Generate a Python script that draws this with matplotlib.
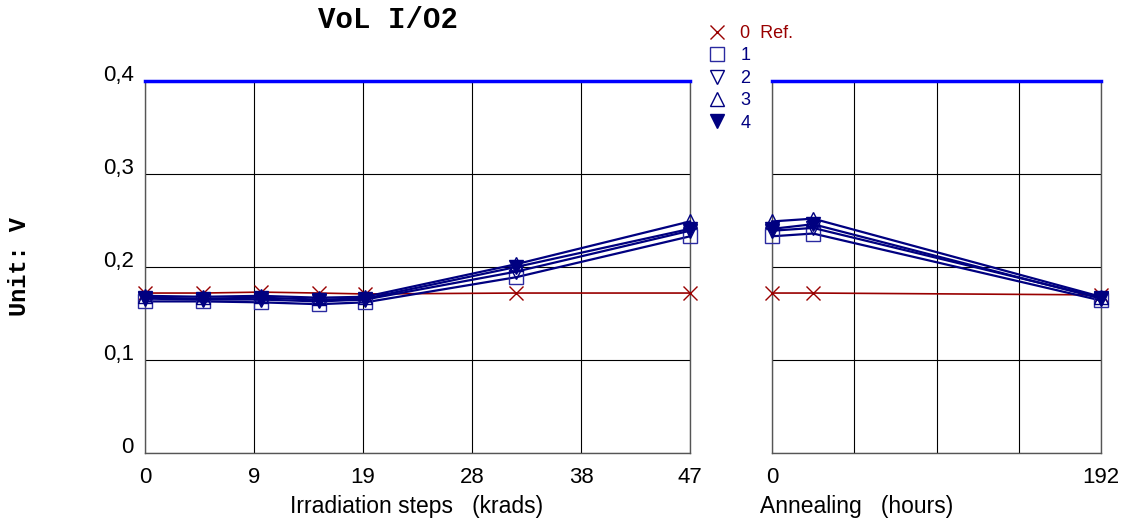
import numpy as np
import matplotlib
matplotlib.use('Agg')
import matplotlib.pyplot as plt
from matplotlib.lines import Line2D

plt.rcParams['font.family'] = ['Liberation Sans', 'DejaVu Sans']

# data
dose = [0, 5, 10, 15, 19, 32, 47]          # krads
anneal = [0, 24, 192]                      # hours
limit = 0.4

ref_irr = [0.172, 0.172, 0.173, 0.172, 0.171, 0.172, 0.172]
s1_irr = [0.163, 0.163, 0.162, 0.160, 0.162, 0.189, 0.233]
s2_irr = [0.166, 0.165, 0.165, 0.163, 0.165, 0.195, 0.239]
s3_irr = [0.169, 0.168, 0.169, 0.167, 0.168, 0.203, 0.249]
s4_irr = [0.167, 0.166, 0.167, 0.165, 0.166, 0.200, 0.241]

ref_ann = [0.172, 0.172, 0.170]
s1_ann = [0.233, 0.236, 0.164]
s2_ann = [0.239, 0.242, 0.167]
s3_ann = [0.249, 0.252, 0.168]
s4_ann = [0.241, 0.246, 0.166]

labels = ['0  Ref.', '1', '2', '3', '4']
yticks = [0, 0.1, 0.2, 0.3, 0.4]
ytick_labels = ['0', '0,1', '0,2', '0,3', '0,4']

red = '#990000'
navy = '#000080'
styles = [
    dict(color=red, marker='x', mfc='none', mec=red, lw=1.2),
    dict(color=navy, marker='s', mfc='none', mec='#2a2aa0', lw=1.6),
    dict(color=navy, marker='v', mfc='none', mec=navy, lw=1.6),
    dict(color=navy, marker='^', mfc='none', mec=navy, lw=1.6),
    dict(color=navy, marker='v', mfc=navy, mec=navy, lw=1.6),
]

fig = plt.figure(figsize=(11.26, 5.24), dpi=100)
ax1 = fig.add_axes([145/1126, 1-453/524, 545/1126, 372/524])
ax2 = fig.add_axes([772/1126, 1-453/524, 329/1126, 372/524])

for ax, x, series in [(ax1, dose, [ref_irr, s1_irr, s2_irr, s3_irr, s4_irr]),
                      (ax2, anneal, [ref_ann, s1_ann, s2_ann, s3_ann, s4_ann])]:
    for y, st in zip(series, styles):
        ax.plot(x, y, ms=10, mew=1.0, clip_on=False, zorder=3, **st)
    ax.set_ylim(0, limit)
    ax.set_yticks(yticks)
    ax.grid(True, color='black', lw=0.8)
    ax.tick_params(length=0, labelsize=16, pad=10)
    for s in ['left', 'right', 'bottom']:
        ax.spines[s].set_color('#555555')
        ax.spines[s].set_linewidth(1.0)
    ax.spines['top'].set_color('blue')
    ax.spines['top'].set_linewidth(2.5)
    ax.spines['top'].set_zorder(5)

ax1.set_xlim(0, 47)
xt = np.linspace(0, 47, 6)
ax1.set_xticks(xt)
ax1.set_xticklabels([str(int(round(v))) for v in xt])
ax1.set_yticklabels(ytick_labels)
ax1.tick_params(axis='y', pad=8)
for t in ax1.get_yticklabels():
    t.set_verticalalignment('baseline')

ax2.set_xlim(0, 192)
ax2.set_xticks([0, 48, 96, 144, 192])
ax2.set_xticklabels(['0', '', '', '', '192'])
ax2.set_yticklabels([])

fig.text(417/1126, 1-507/524, 'Irradiation steps   (krads)', ha='center', va='center', fontsize=16.5)
fig.text(760/1126, 1-507/524, 'Annealing   (hours)', ha='left', va='center', fontsize=16.5)
fig.text(388/1126, 1-20/524, 'VoL I/O2', ha='center', va='center', fontsize=21,
         family='Liberation Mono', weight='bold')
fig.text(20/1126, 1-267/524, 'Unit: V', ha='center', va='center', rotation=90, fontsize=17,
         family='Liberation Mono', weight='bold')

handles = [Line2D([], [], ls='none', marker=st['marker'], mfc=st['mfc'], mec=st['mec'],
                  ms=10, mew=1.0) for st in styles]
leg = fig.legend(handles, labels, loc='upper left', bbox_to_anchor=(708/1126, 1-25/524),
                 frameon=False, fontsize=13, handlelength=1.0, handletextpad=0.8,
                 labelspacing=0.3, borderaxespad=0, borderpad=0,
                 labelcolor=[red, navy, navy, navy, navy])

fig.savefig('out.png', dpi=100)
